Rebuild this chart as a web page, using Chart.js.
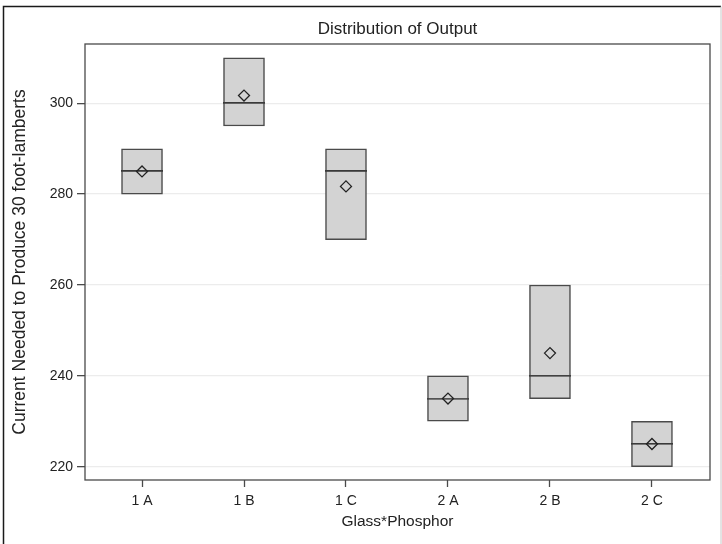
<!DOCTYPE html>
<html>
<head>
<meta charset="utf-8">
<script src="https://cdn.jsdelivr.net/npm/chart.js@4"></script>
<style>
    html, body { margin: 0; padding: 0; background: #ffffff; }
    #wrap { width: 722px; height: 544px; position: relative; }
</style>
</head>
<body>
<div id="wrap"><canvas id="boxChart"></canvas></div>
<script>
//#region Data
const categories = ["1 A", "1 B", "1 C", "2 A", "2 B", "2 C"];
const q1Values = [280, 295, 270, 230, 235, 220];
const q3Values = [290, 310, 290, 240, 260, 230];
const medianValues = [285, 300, 285, 235, 240, 225];
const meanValues = [285, 301.7, 281.7, 235, 245, 225];
const yTickValues = [220, 240, 260, 280, 300];
//#endregion

//#region Frame Plugin
const framePlugin = {
    id: "frame",
    afterDraw(chart) {
        const ctx = chart.ctx;
        const area = chart.chartArea;
        ctx.save();
        ctx.strokeStyle = "#4a4a4a";
        ctx.lineWidth = 1.3;
        ctx.strokeRect(area.left, area.top, area.right - area.left, area.bottom - area.top);
        // outer border of the picture
        ctx.strokeStyle = "#1a1a1a";
        ctx.lineWidth = 1.5;
        ctx.beginPath();
        ctx.moveTo(3.5, 560);
        ctx.lineTo(3.5, 6.5);
        ctx.lineTo(721, 6.5);
        ctx.stroke();
        ctx.strokeStyle = "#c8c8c8";
        ctx.lineWidth = 1;
        ctx.beginPath();
        ctx.moveTo(721, 6.5);
        ctx.lineTo(721, 560);
        ctx.stroke();
        ctx.restore();
    }
};
//#endregion

//#region Median Marker
// a wide flat marker; an image style keeps the point radius small for layout
function MakeMedianMarker() {
    const c = document.createElement("canvas");
    c.width = 42;
    c.height = 2;
    const ctx = c.getContext("2d");
    ctx.fillStyle = "#3a3a3a";
    ctx.fillRect(0, 0, 42, 1.6);
    return c;
}
//#endregion

//#region Load Box Chart
window.addEventListener("DOMContentLoaded", () => {
    LoadBoxChart();
});

function LoadBoxChart() {
    const element = document.querySelector("#boxChart");
    const font = "'Liberation Sans', Arial, sans-serif";
    const chart = new Chart(element, {
        data: {
            datasets: [{
                type: "bar",
                data: categories.map((c, i) => ({ x: i, y: [q1Values[i], q3Values[i]] })),
                backgroundColor: "#d3d3d3",
                borderColor: "#4a4a4a",
                borderWidth: 1.5,
                borderSkipped: false,
                barThickness: 41,
                order: 3
            }, {
                type: "scatter",
                data: categories.map((c, i) => ({ x: i, y: medianValues[i] })),
                pointStyle: MakeMedianMarker(),
                pointRadius: 1,
                borderWidth: 0,
                order: 2
            }, {
                type: "scatter",
                data: categories.map((c, i) => ({ x: i, y: meanValues[i] })),
                pointStyle: "rectRot",
                pointRadius: 5.5,
                backgroundColor: "rgba(0,0,0,0)",
                borderColor: "#222222",
                borderWidth: 1.3,
                order: 1
            }]
        },
        options: {
            responsive: true,
            maintainAspectRatio: false,
            animation: false,
            events: [],
            layout: {
                padding: { top: 0, left: 0, right: 12, bottom: 0 }
            },
            scales: {
                x: {
                    type: "linear",
                    offset: false,
                    min: -0.559,
                    max: 5.569,
                    afterBuildTicks: (axis) => {
                        axis.ticks = categories.map((c, i) => ({ value: i }));
                    },
                    afterFit: (axis) => {
                        axis.height = 64;
                        axis.paddingLeft = 0;
                        axis.paddingRight = 0;
                    },
                    ticks: {
                        callback: (value) => categories[value],
                        color: "#222222",
                        font: { family: font, size: 14 },
                        padding: 6,
                        maxRotation: 0
                    },
                    grid: {
                        offset: false,
                        drawOnChartArea: false,
                        tickLength: 7,
                        tickColor: "#4a4a4a",
                        tickWidth: 1.3
                    },
                    border: { display: false },
                    title: {
                        display: true,
                        text: "Glass*Phosphor",
                        color: "#222222",
                        font: { family: font, size: 15.5 },
                        padding: { top: 4, bottom: 13 }
                    }
                },
                y: {
                    min: 217.07,
                    max: 313.05,
                    afterBuildTicks: (axis) => {
                        axis.ticks = yTickValues.map(v => ({ value: v }));
                    },
                    afterFit: (axis) => { axis.width = 85; },
                    ticks: {
                        color: "#222222",
                        font: { family: font, size: 14 },
                        padding: 4
                    },
                    grid: {
                        color: "#ececec",
                        lineWidth: 1.3,
                        tickLength: 8,
                        tickColor: "#4a4a4a",
                        tickWidth: 1.3
                    },
                    border: { display: false },
                    title: {
                        display: true,
                        text: "Current Needed to Produce 30 foot-lamberts",
                        color: "#222222",
                        font: { family: font, size: 17.5 },
                        padding: { top: 10, bottom: 4 }
                    }
                }
            },
            plugins: {
                legend: {
                    display: false
                },
                tooltip: {
                    enabled: false
                },
                title: {
                    display: true,
                    fullSize: false,
                    text: "Distribution of Output",
                    color: "#222222",
                    font: { family: font, size: 17, weight: "normal" },
                    padding: { top: 19, bottom: 4.6 }
                }
            }
        },
        plugins: [framePlugin]
    });
}
//#endregion
</script>
</body>
</html>
